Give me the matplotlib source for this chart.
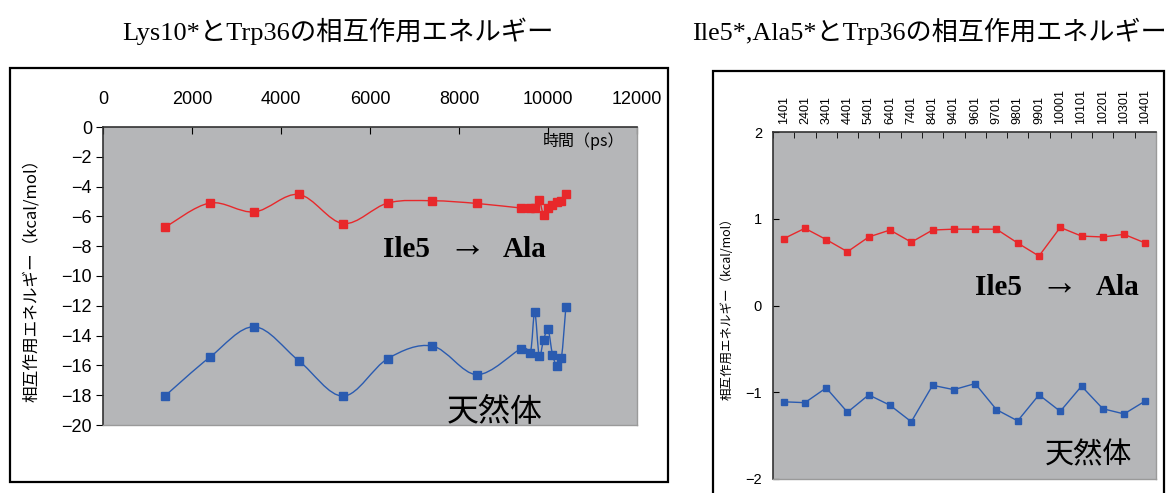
import matplotlib
matplotlib.use('Agg')
import matplotlib.pyplot as plt
import numpy as np
from matplotlib.path import Path
from matplotlib.patches import PathPatch, Rectangle

# ---------------- data ----------------
times = [1401, 2401, 3401, 4401, 5401, 6401, 7401, 8401, 9401, 9601,
         9701, 9801, 9901, 10001, 10101, 10201, 10301, 10401]
time_labels = [str(t) for t in times]

# Left chart: Lys10* - Trp36
lys_ala = [-6.72, -5.10, -5.70, -4.53, -6.48, -5.10, -4.95, -5.13, -5.44, -5.44,
           -5.44, -4.91, -5.88, -5.44, -5.24, -5.02, -4.95, -4.51]
lys_native = [-18.03, -15.45, -13.41, -15.69, -18.06, -15.54, -14.70, -16.62, -14.87, -15.16,
              -12.44, -15.34, -14.28, -13.59, -15.27, -16.02, -15.51, -12.11]

# Right chart: Ile5*, Ala5* - Trp36
ile_ala = [0.77, 0.89, 0.76, 0.62, 0.79, 0.87, 0.73, 0.87, 0.88, 0.88,
           0.88, 0.72, 0.57, 0.90, 0.80, 0.79, 0.82, 0.72]
ile_native = [-1.11, -1.12, -0.95, -1.23, -1.03, -1.15, -1.34, -0.92, -0.97, -0.90,
              -1.20, -1.33, -1.03, -1.22, -0.93, -1.19, -1.25, -1.10]

left_xticks = [0, 2000, 4000, 6000, 8000, 10000, 12000]
left_yticks = [0, -2, -4, -6, -8, -10, -12, -14, -16, -18, -20]
right_yticks = [2, 1, 0, -1, -2]

title_left = 'Lys10*とTrp36の相互作用エネルギー'
title_right = 'Ile5*,Ala5*とTrp36の相互作用エネルギー'
ylabel = '相互作用エネルギー（kcal/mol）'

# ---------------- style ----------------
RED = '#E8282B'
BLUE = '#2A5BB0'
GRAY = '#B5B6B8'
W, H = 1170, 493
SERIF = ['Liberation Serif', 'Noto Sans CJK JP', 'DejaVu Serif']
CJK = ['Noto Sans CJK JP', 'DejaVu Sans']
TICKF = ['Liberation Sans', 'DejaVu Sans']

fig = plt.figure(figsize=(W / 100, H / 100), dpi=100)


def fx(px):
    return px / W


def fy(py):
    return 1 - py / H


def smooth_path(xs, ys):
    P = np.column_stack([xs, ys]).astype(float)
    n = len(P)
    verts = [P[0]]
    codes = [Path.MOVETO]
    for i in range(n - 1):
        p0 = P[i - 1] if i > 0 else P[i]
        p1 = P[i]
        p2 = P[i + 1]
        p3 = P[i + 2] if i + 2 < n else P[i + 1]
        c1 = p1 + (p2 - p0) / 6.0
        c2 = p2 - (p3 - p1) / 6.0
        verts += [c1, c2, p2]
        codes += [Path.CURVE4] * 3
    return Path(verts, codes)


def label_ile(ax, x_left, x_arrow, x_right, y):
    ax.text(x_left, y, 'Ile5', transform=ax.transAxes, ha='left', va='center',
            family=SERIF, fontsize=21, fontweight='bold')
    ax.text(x_arrow, y + 0.008, '→', transform=ax.transAxes, ha='center', va='center',
            family=SERIF, fontsize=27)
    ax.text(x_right, y, 'Ala', transform=ax.transAxes, ha='right', va='center',
            family=SERIF, fontsize=21, fontweight='bold')


def style_spines(ax):
    for s in ['top', 'left']:
        ax.spines[s].set_color('#333333')
        ax.spines[s].set_linewidth(1.2)
    for s in ['bottom', 'right']:
        ax.spines[s].set_color('#9a9a9a')
        ax.spines[s].set_linewidth(1.0)


# outer frames
fig.add_artist(Rectangle((fx(10), fy(482)), fx(668) - fx(10), fy(68) - fy(482),
                         transform=fig.transFigure, fill=False, ec='black', lw=1.6))
fig.add_artist(Rectangle((fx(713), -0.05), fx(1164) - fx(713), fy(71) + 0.05,
                         transform=fig.transFigure, fill=False, ec='black', lw=1.6))

# ---------------- left chart ----------------
ax1 = fig.add_axes([fx(103), fy(425), fx(637) - fx(103), fy(127) - fy(425)])
ax1.set_facecolor(GRAY)
ax1.set_xlim(0, 12000)
ax1.set_ylim(-20, 0)
ax1.xaxis.tick_top()
ax1.set_xticks(left_xticks)
ax1.set_yticks(left_yticks)
ax1.tick_params(axis='x', direction='in', length=5, pad=14, labelsize=13)
ax1.tick_params(axis='y', direction='out', length=5, pad=3, labelsize=13)
for lab in ax1.get_xticklabels() + ax1.get_yticklabels():
    lab.set_family(TICKF)
style_spines(ax1)

for vals, col in [(lys_ala, RED), (lys_native, BLUE)]:
    ax1.add_patch(PathPatch(smooth_path(times, vals), fill=False, ec=col, lw=1.0))
    ax1.plot(times, vals, ls='none', marker='s', ms=6, color=col)

ax1.set_ylabel(ylabel, family=CJK, fontsize=12)
ax1.yaxis.set_label_coords(-0.118, 0.5)
ax1.text(0.977, 0.953, '時間（ps）', transform=ax1.transAxes, ha='right', va='center',
         family=CJK, fontsize=11.5)
label_ile(ax1, 0.524, 0.682, 0.831, 0.59)
ax1.text(0.644, 0.045, '天然体', transform=ax1.transAxes, ha='left', va='center',
         family=CJK, fontsize=23)

# ---------------- right chart ----------------
ax2 = fig.add_axes([fx(773), fy(479), fx(1156) - fx(773), fy(132) - fy(479)])
ax2.set_facecolor(GRAY)
pos = np.arange(len(times))
ax2.set_xlim(-0.5, len(times) - 0.5)
ax2.set_ylim(-2, 2)
ax2.xaxis.tick_top()
ax2.set_xticks(pos)
ax2.set_xticklabels(time_labels, rotation=90, family=TICKF, fontsize=9)
ax2.set_xticks(np.arange(len(times) + 1) - 0.5, minor=True)
ax2.tick_params(axis='x', which='major', length=0, pad=6)
ax2.tick_params(axis='x', which='minor', direction='in', length=4)
ax2.set_yticks(right_yticks)
ax2.tick_params(axis='y', direction='in', length=4, pad=8, labelsize=10.5)
for lab in ax2.get_yticklabels():
    lab.set_family(TICKF)
style_spines(ax2)

ax2.plot(pos, ile_ala, color=RED, lw=1.0, marker='s', ms=5)
ax2.plot(pos, ile_native, color=BLUE, lw=1.0, marker='s', ms=5)

ax2.set_ylabel(ylabel, family=CJK, fontsize=9)
ax2.yaxis.set_label_coords(-0.104, 0.5)
label_ile(ax2, 0.527, 0.747, 0.956, 0.552)
ax2.text(0.71, 0.069, '天然体', transform=ax2.transAxes, ha='left', va='center',
         family=CJK, fontsize=21)

# titles
fig.text(fx(338), fy(31), title_left, ha='center', va='center', family=SERIF, fontsize=19)
fig.text(fx(692), fy(31), title_right, ha='left', va='center', family=SERIF, fontsize=18.8)

fig.savefig('out.png', dpi=100)
